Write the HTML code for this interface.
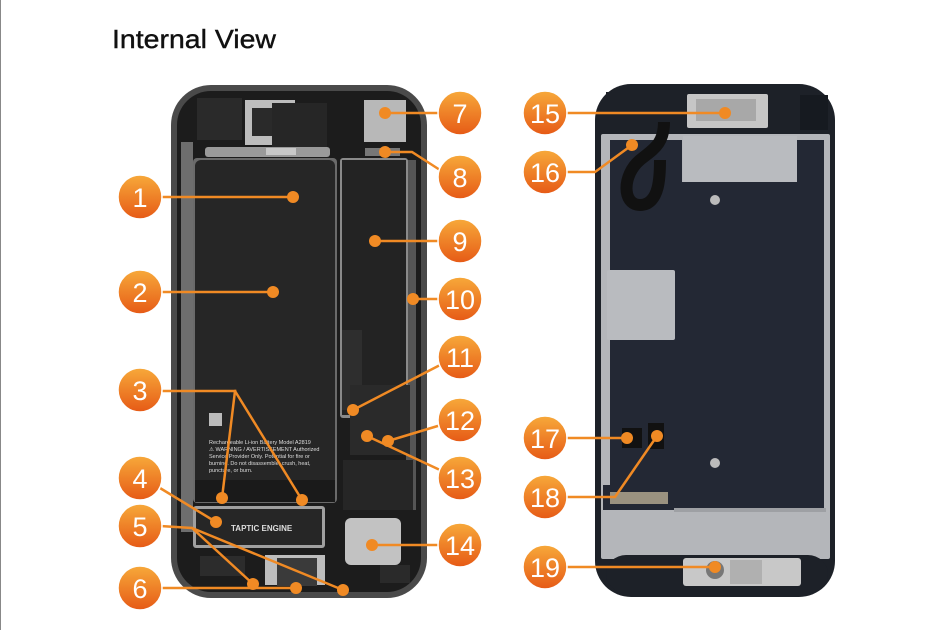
<!DOCTYPE html>
<html><head><meta charset="utf-8"><style>
html,body{margin:0;padding:0;background:#fff;}
svg{display:block;}
</style></head><body>
<svg width="945" height="630" viewBox="0 0 945 630" xmlns="http://www.w3.org/2000/svg">
<defs>
<linearGradient id="og" x1="0" y1="0" x2="0" y2="1">
<stop offset="0" stop-color="#f7a93a"/><stop offset="1" stop-color="#e65a16"/>
</linearGradient>
</defs>
<rect x="0" y="0" width="945" height="630" fill="#fff"/>
<line x1="0.5" y1="0" x2="0.5" y2="630" stroke="#888" stroke-width="1"/>
<text x="112" y="48" font-family="Liberation Sans, sans-serif" font-size="26" fill="#111" stroke="#111" stroke-width="0.4" textLength="164" lengthAdjust="spacingAndGlyphs">Internal View</text>

<!-- LEFT PHONE -->
<rect x="171" y="85" width="256" height="513" rx="40" fill="#4a4a4a"/>
<rect x="177" y="91" width="244" height="501" rx="34" fill="#1c1c1c"/>
<rect x="197" y="98" width="45" height="42" fill="#2a2a2a"/>
<rect x="245" y="100" width="50" height="45" fill="#bdbdbd"/>
<rect x="252" y="108" width="22" height="28" fill="#2a2a2a"/>
<rect x="272" y="103" width="55" height="45" fill="#262626"/>
<rect x="364" y="100" width="42" height="42" fill="#b8b8b8"/>
<rect x="205" y="147" width="125" height="10" rx="3" fill="#9a9a9a"/>
<rect x="266" y="148" width="30" height="7" fill="#c8c8c8"/>
<rect x="365" y="148" width="35" height="8" fill="#777"/>
<rect x="181" y="142" width="12" height="390" fill="#6e6e6e"/>
<rect x="406" y="160" width="10" height="350" fill="#555"/>
<rect x="193" y="158" width="144" height="345" rx="4" fill="#6a6a6a"/>
<rect x="195" y="160" width="140" height="325" rx="6" fill="#262626"/>
<rect x="195" y="480" width="140" height="22" fill="#1a1a1a"/>
<rect x="209" y="413" width="13" height="13" fill="#bbb"/>
<text x="209" y="444" font-family="Liberation Sans, sans-serif" font-size="5.5" fill="#ddd">Rechargeable Li-ion Battery  Model A2819</text>
<text x="209" y="451" font-family="Liberation Sans, sans-serif" font-size="5.5" fill="#ddd">⚠ WARNING / AVERTISSEMENT Authorized</text>
<text x="209" y="458" font-family="Liberation Sans, sans-serif" font-size="5.5" fill="#ddd">Service Provider Only. Potential for fire or</text>
<text x="209" y="465" font-family="Liberation Sans, sans-serif" font-size="5.5" fill="#ddd">burning. Do not disassemble, crush, heat,</text>
<text x="209" y="472" font-family="Liberation Sans, sans-serif" font-size="5.5" fill="#ddd">puncture, or burn.</text>
<rect x="340" y="158" width="68" height="260" rx="3" fill="#8a8a8a"/>
<rect x="342" y="160" width="64" height="255" fill="#232323"/>
<rect x="342" y="330" width="20" height="80" fill="#2e2e2e"/>
<rect x="350" y="385" width="60" height="70" fill="#2a2a2a"/>
<rect x="343" y="460" width="70" height="50" fill="#262626"/>
<rect x="193" y="506" width="132" height="42" rx="3" fill="#a0a0a0"/>
<rect x="196" y="509" width="126" height="36" fill="#262626"/>
<text x="231" y="531" font-family="Liberation Sans, sans-serif" font-size="8" font-weight="bold" fill="#ddd">TAPTIC ENGINE</text>
<rect x="345" y="518" width="56" height="47" rx="6" fill="#c2c2c2"/>
<rect x="265" y="555" width="60" height="30" fill="#bdbdbd"/>
<rect x="277" y="558" width="40" height="28" fill="#3a3a3a"/>
<rect x="200" y="556" width="45" height="20" fill="#2c2c2c"/>
<rect x="380" y="565" width="30" height="18" fill="#2a2a2a"/>

<!-- RIGHT PHONE -->
<rect x="595" y="84" width="240" height="513" rx="36" fill="#1d2128"/>
<rect x="601" y="134" width="229" height="425" rx="2" fill="#b4b6ba"/>
<path d="M610 140 H682 V182 H797 V140 H824 V510 H675 V485 H610 Z" fill="#232834"/>
<rect x="607" y="270" width="68" height="70" rx="2" fill="#b9bbbf"/>
<rect x="683" y="136" width="114" height="46" fill="#b9bbbf"/>
<rect x="603" y="485" width="72" height="25" fill="#232834"/>
<rect x="610" y="492" width="58" height="12" fill="#9a9280"/>
<rect x="674" y="508" width="152" height="4" fill="#9ea0a4"/>
<rect x="606" y="555" width="222" height="38" rx="20" fill="#1d2128"/>
<rect x="687" y="94" width="81" height="34" rx="2" fill="#c6c6c6"/>
<rect x="696" y="99" width="60" height="22" fill="#a8a8a8"/>
<rect x="606" y="92" width="80" height="40" fill="#1d2128"/>
<rect x="800" y="95" width="28" height="35" fill="#161a20"/>
<path d="M664 122 C664 145 652 150 640 160 C622 175 622 205 640 205 C660 205 660 175 660 160" fill="none" stroke="#111" stroke-width="12"/>
<circle cx="715" cy="200" r="5" fill="#bbb"/>
<circle cx="715" cy="463" r="5" fill="#bbb"/>
<rect x="622" y="428" width="20" height="20" fill="#111"/>
<rect x="648" y="423" width="16" height="26" fill="#111"/>
<rect x="683" y="558" width="118" height="28" rx="3" fill="#c8c8c8"/>
<circle cx="715" cy="570" r="9" fill="#777"/>
<rect x="730" y="560" width="32" height="24" fill="#b0b0b0"/>

<g stroke="#f08a24" stroke-width="2.5" fill="none" stroke-linecap="round">
<line x1="160" y1="197" x2="293" y2="197"/>
<line x1="160" y1="292" x2="273" y2="292"/>
<polyline points="160,391 235,391 222,498"/>
<line x1="235" y1="391" x2="302" y2="500"/>
<line x1="155" y1="485" x2="216" y2="522"/>
<polyline points="160,526 192,528 253,584"/>
<line x1="192" y1="528" x2="343" y2="590"/>
<line x1="160" y1="588" x2="296" y2="588"/>
<line x1="385" y1="113" x2="440" y2="113"/>
<polyline points="385,152 412,152 440,170"/>
<line x1="375" y1="241" x2="440" y2="241"/>
<line x1="413" y1="299" x2="440" y2="299"/>
<line x1="353" y1="410" x2="442" y2="364"/>
<line x1="388" y1="441" x2="441" y2="425"/>
<line x1="367" y1="436" x2="440" y2="470"/>
<line x1="372" y1="545" x2="440" y2="545"/>
<line x1="565" y1="113" x2="725" y2="113"/>
<polyline points="565,172 595,172 632,145"/>
<line x1="565" y1="438" x2="627" y2="438"/>
<polyline points="565,497 615,497 657,436"/>
<line x1="565" y1="567" x2="715" y2="567"/>
</g>
<g fill="#f08a24">
<circle cx="293" cy="197" r="6"/><circle cx="273" cy="292" r="6"/>
<circle cx="222" cy="498" r="6"/><circle cx="302" cy="500" r="6"/>
<circle cx="216" cy="522" r="6"/><circle cx="253" cy="584" r="6"/>
<circle cx="343" cy="590" r="6"/><circle cx="296" cy="588" r="6"/>
<circle cx="385" cy="113" r="6"/><circle cx="385" cy="152" r="6"/>
<circle cx="375" cy="241" r="6"/><circle cx="413" cy="299" r="6"/>
<circle cx="353" cy="410" r="6"/><circle cx="388" cy="441" r="6"/>
<circle cx="367" cy="436" r="6"/><circle cx="372" cy="545" r="6"/>
<circle cx="725" cy="113" r="6"/><circle cx="632" cy="145" r="6"/>
<circle cx="627" cy="438" r="6"/><circle cx="657" cy="436" r="6"/>
<circle cx="715" cy="567" r="6"/>
</g>

<g font-family="Liberation Sans, sans-serif" font-size="27" fill="#fff" text-anchor="middle">
<g stroke="#fff" stroke-width="1.5" fill="url(#og)">
<circle cx="140" cy="197" r="22"/><circle cx="140" cy="292" r="22"/>
<circle cx="140" cy="390" r="22"/><circle cx="140" cy="478" r="22"/>
<circle cx="140" cy="526" r="22"/><circle cx="140" cy="588" r="22"/>
<circle cx="460" cy="113" r="22"/><circle cx="460" cy="177" r="22"/>
<circle cx="460" cy="241" r="22"/><circle cx="460" cy="299" r="22"/>
<circle cx="460" cy="357" r="22"/><circle cx="460" cy="420" r="22"/>
<circle cx="460" cy="478" r="22"/><circle cx="460" cy="545" r="22"/>
<circle cx="545" cy="113" r="22"/><circle cx="545" cy="172" r="22"/>
<circle cx="545" cy="438" r="22"/><circle cx="545" cy="497" r="22"/>
<circle cx="545" cy="567" r="22"/>
</g>
<text x="140" y="207">1</text><text x="140" y="302">2</text>
<text x="140" y="400">3</text><text x="140" y="488">4</text>
<text x="140" y="536">5</text><text x="140" y="598">6</text>
<text x="460" y="123">7</text><text x="460" y="187">8</text>
<text x="460" y="251">9</text><text x="460" y="309">10</text>
<text x="460" y="367">11</text><text x="460" y="430">12</text>
<text x="460" y="488">13</text><text x="460" y="555">14</text>
<text x="545" y="123">15</text><text x="545" y="182">16</text>
<text x="545" y="448">17</text><text x="545" y="507">18</text>
<text x="545" y="577">19</text>
</g>
</svg>
</body></html>
